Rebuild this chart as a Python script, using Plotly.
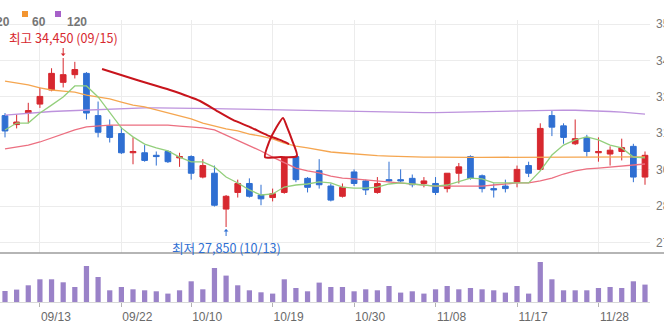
import plotly.graph_objects as go

# ---- trading-day axis -------------------------------------------------------
day_index = list(range(56))
tick_pos = [3, 10, 16, 23, 30, 37, 44, 51]
tick_labels = ["09/13", "09/22", "10/10", "10/19", "10/30", "11/08", "11/17", "11/28"]

# ---- daily OHLC (KRW) --------------------------------------------------------
opens = [32200, 31850, 32300, 32650, 33200, 33500, 33800, 33850, 32200, 31800,
         31500, 30750, 30750, 30650, 30800, 30550, 30600, 29800, 29950, 28550,
         29200, 29550, 29100, 29000, 29200, 30600, 29750, 30050, 29450, 29050,
         30000, 29650, 29200, 29700, 29700, 29750, 29550, 29550, 29350, 29950,
         30600, 29850, 29350, 29450, 29600, 30250, 30100, 32200, 31800, 31100,
         31350, 30750, 30700, 30800, 31000, 29800]
highs = [32300, 32250, 32700, 33300, 34050, 34450, 34300, 33900, 32750, 32050,
         31750, 31350, 31050, 30800, 30850, 30750, 30650, 30500, 30250, 29100,
         29700, 29750, 29500, 29350, 30600, 30650, 29800, 30500, 29550, 29550,
         30100, 29700, 29800, 30400, 30100, 29900, 29800, 29800, 29950, 30350,
         30650, 29900, 29550, 29700, 30250, 30400, 31900, 32400, 31900, 32050,
         31450, 31350, 31000, 31300, 31100, 30800]
lows = [31350, 31700, 31900, 32500, 33150, 33300, 33650, 32050, 31350, 31150,
        30700, 30300, 30400, 30250, 30350, 30200, 29700, 29750, 28650, 27850,
        29000, 29000, 28700, 28850, 29150, 29600, 29200, 29350, 28850, 29000,
        29450, 29100, 29150, 29600, 29600, 29400, 29400, 29100, 29200, 29550,
        29700, 29200, 29000, 29200, 29400, 29800, 30050, 31400, 31100, 31050,
        30600, 30400, 30250, 30450, 29600, 29500]
closes = [31600, 31950, 32400, 32950, 33850, 33800, 34000, 32300, 31550, 31350,
          30750, 30800, 30450, 30600, 30400, 30600, 29950, 30250, 28700, 29050,
          29550, 29050, 28950, 29150, 30550, 29700, 29400, 29500, 28900, 29400,
          29550, 29300, 29550, 29650, 29650, 29500, 29650, 29200, 29950, 30200,
          29750, 29350, 29300, 29350, 30100, 29950, 31700, 31750, 31350, 31300,
          30800, 30800, 30850, 30950, 29800, 30650]

# ---- traded volume (shares) --------------------------------------------------
volumes = [44000, 49600, 66800, 90800, 90800, 78800, 60000, 144000, 100000, 46800,
           60000, 50800, 46800, 42800, 33600, 46800, 82800, 50800, 136000, 105600,
           66800, 46800, 38800, 33600, 90800, 56000, 42800, 77600, 60000, 60000,
           42800, 50800, 46800, 64000, 37600, 42800, 33600, 50800, 64000, 50800,
           56000, 50800, 46800, 37600, 64000, 33600, 160000, 90800, 46800, 46800,
           46800, 56000, 60000, 56000, 82800, 69600]

# ---- moving averages ---------------------------------------------------------
ma5 = [31640, 31910, 31910, 32300, 32610, 32930, 33360, 33360, 32930, 32340,
       31720, 31370, 31090, 30940, 30820, 30580, 30390, 30390, 30190, 29800,
       29570, 29300, 29100, 29140, 29410, 29490, 29530, 29610, 29570, 29410,
       29370, 29370, 29410, 29530, 29570, 29530, 29490, 29450, 29490, 29610,
       29760, 29730, 29570, 29570, 29570, 29570, 30040, 30660, 31050, 31250,
       31370, 31250, 31050, 30940, 30580, 30550]
ma20 = [30900, 30970, 31050, 31170, 31330, 31480, 31640, 31760, 31790, 31830,
        31830, 31830, 31830, 31830, 31830, 31790, 31760, 31720, 31640, 31440,
        31250, 31050, 30820, 30580, 30350, 30150, 30040, 29960, 29840, 29760,
        29730, 29690, 29650, 29610, 29570, 29530, 29490, 29450, 29450, 29450,
        29450, 29450, 29490, 29530, 29570, 29570, 29650, 29760, 29920, 30040,
        30120, 30150, 30190, 30230, 30270, 30310]
ma60 = [33550, 33470, 33400, 33280, 33200, 33160, 33120, 33000, 32930, 32850,
        32730, 32610, 32540, 32420, 32300, 32190, 32070, 31910, 31790, 31680,
        31600, 31480, 31400, 31290, 31130, 31010, 30940, 30860, 30780, 30740,
        30700, 30660, 30640, 30620, 30600, 30590, 30580, 30580, 30570, 30570,
        30570, 30570, 30570, 30570, 30570, 30570, 30570, 30570, 30570, 30570,
        30570, 30570, 30580, 30580, 30580, 30590]
ma120 = [32220, 32260, 32300, 32340, 32360, 32380, 32400, 32420, 32440, 32460,
         32480, 32490, 32500, 32500, 32500, 32495, 32490, 32485, 32475, 32465,
         32455, 32445, 32430, 32420, 32410, 32400, 32390, 32380, 32370, 32360,
         32350, 32345, 32340, 32330, 32325, 32320, 32315, 32320, 32330, 32335,
         32340, 32350, 32360, 32370, 32380, 32395, 32405, 32420, 32415, 32410,
         32400, 32380, 32360, 32340, 32300, 32260]

# freehand marker strokes (day index, price)
stroke_curve_x = [8.34, 11.34, 14.18, 16.76, 18.22, 19.59, 21.06, 22.52, 23.63, 24.41]
stroke_curve_y = [34020, 33590, 33200, 32770, 32380, 32030, 31750, 31440, 31250, 31090]
stroke_head_x = [23.89, 23.29, 22.69, 22.34, 23.72, 25.09, 24.66, 24.24, 23.89]
stroke_head_y = [32110, 31720, 31170, 30580, 30580, 30620, 31250, 31750, 32110]

y_ticks = [27250, 28670, 30090, 31510, 32930, 34350, 35770]

RED = "#d7282f"
BLUE = "#2f6fd2"
GRID = "#ececec"

fig = go.Figure()

ma_specs = [(ma120, "#bd93dd"), (ma60, "#f5a650"), (ma20, "#ec6f80"), (ma5, "#93cf7c")]
for values, color in ma_specs:
    fig.add_trace(go.Scatter(x=day_index, y=values, mode="lines",
                             line=dict(color=color, width=1.3),
                             hoverinfo="skip", xaxis="x", yaxis="y"))

fig.add_trace(go.Candlestick(
    x=day_index, open=opens, high=highs, low=lows, close=closes,
    increasing=dict(line=dict(color=RED, width=1), fillcolor=RED),
    decreasing=dict(line=dict(color=BLUE, width=1), fillcolor=BLUE),
    whiskerwidth=0, xaxis="x", yaxis="y", hoverinfo="skip"))

fig.add_trace(go.Bar(x=day_index, y=volumes, marker=dict(color="#9a82c8", line=dict(width=0)),
                     width=0.45, xaxis="x2", yaxis="y2", hoverinfo="skip"))

for sx, sy in [(stroke_curve_x, stroke_curve_y), (stroke_head_x, stroke_head_y)]:
    fig.add_trace(go.Scatter(x=sx, y=sy, mode="lines",
                             line=dict(color="#c8141c", width=2, shape="spline", smoothing=0.6),
                             hoverinfo="skip", xaxis="x", yaxis="y"))

# high / low call-outs with short pointer arrows
hi_i = highs.index(max(highs))
lo_i = lows.index(min(lows))
label_font = dict(family="Noto Sans CJK KR", size=12.6)
fig.add_annotation(x=day_index[hi_i], y=highs[hi_i], xref="x", yref="y",
                   text=f"최고 {highs[hi_i]:,} (09/15)",
                   showarrow=True, ax=0, ay=-21, arrowhead=1, arrowsize=0.8,
                   arrowwidth=1, arrowcolor=RED, standoff=2,
                   font=dict(color=RED, **label_font))
fig.add_annotation(x=day_index[lo_i], y=lows[lo_i], xref="x", yref="y",
                   text=f"최저 {lows[lo_i]:,} (10/13)",
                   showarrow=True, ax=0, ay=20, arrowhead=1, arrowsize=0.8,
                   arrowwidth=1, arrowcolor=BLUE, standoff=2,
                   font=dict(color=BLUE, **label_font))

# legend row
PH = 302.0
def py(v):
    return (PH - v) / PH

legend_font = dict(family="Liberation Sans", size=12, color="#767676")
fig.add_annotation(x=12 / 650, y=py(13.5), xref="paper", yref="paper", text="<b>20</b>",
                   showarrow=False, xanchor="right", font=legend_font)
fig.add_annotation(x=30 / 650, y=py(13.5), xref="paper", yref="paper", text="<b>60</b>",
                   showarrow=False, xanchor="left", font=legend_font)
fig.add_annotation(x=65 / 650, y=py(13.5), xref="paper", yref="paper", text="<b>120</b>",
                   showarrow=False, xanchor="left", font=legend_font)
for x0, c in [(22, "#f39530"), (55, "#a660c9")]:
    fig.add_shape(type="rect", xref="paper", yref="paper", x0=x0 / 650, x1=(x0 + 6) / 650,
                  y0=py(17), y1=py(11), fillcolor=c, line=dict(width=0))

# separator under the price pane
fig.add_shape(type="line", xref="paper", yref="paper", x0=0, x1=664 / 650,
              y0=py(253), y1=py(253), line=dict(color="#9c9c9c", width=1.6))

x_range = [-0.43, 55.43]
fig.update_layout(
    width=664, height=331,
    margin=dict(l=0, r=14, t=0, b=29, autoexpand=False),
    paper_bgcolor="white", plot_bgcolor="white",
    showlegend=False,
    boxgap=0.3, boxgroupgap=0.3,
    xaxis=dict(domain=[0, 1], anchor="y", range=x_range, tickvals=tick_pos,
               showticklabels=False, ticks="", showgrid=True, gridcolor=GRID,
               zeroline=False, rangeslider=dict(visible=False), automargin=False),
    xaxis2=dict(domain=[0, 1], anchor="y2", matches="x", range=x_range,
                tickvals=tick_pos, ticktext=tick_labels, ticks="outside", ticklen=4,
                tickcolor="#b4b4b4", showgrid=False, showline=True, linecolor="#d8d8d8",
                linewidth=1, zeroline=False, ticklabelshift=16, automargin=False,
                tickfont=dict(family="Liberation Sans", size=12, color="#6a6a6a")),
    yaxis=dict(domain=[py(253), py(20)], range=[26835, 35934], side="right",
               tickvals=y_ticks, ticktext=[f"{v:,}" for v in y_ticks],
               showgrid=True, gridcolor=GRID, zeroline=False, ticks="", automargin=False,
               ticklabelstandoff=5,
               tickfont=dict(family="Liberation Sans", size=12, color="#777777")),
    yaxis2=dict(domain=[0, 44 / PH], range=[0, 176000], visible=False),
)

fig.write_html("out.html")
